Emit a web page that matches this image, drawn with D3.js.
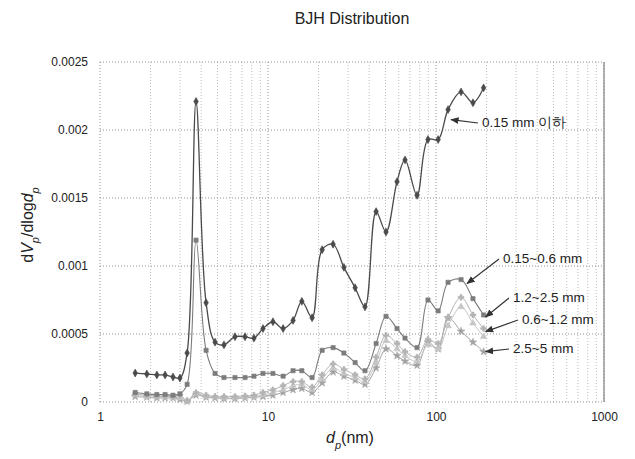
<!DOCTYPE html>
<html>
<head>
<meta charset="utf-8">
<script src="https://cdn.jsdelivr.net/npm/d3@7"></script>
<style>
    body { margin: 0; background: #fff; }
    svg text { font-family: "Liberation Sans", Arial, sans-serif; fill: #222; }
</style>
</head>
<body>
<div id="canvas"></div>
<script>
"use strict"

// DATA (pore diameter in nm, dV/dlogd values)

let diameters = [1.62, 1.90, 2.18, 2.44, 2.72, 2.99, 3.30, 3.73, 4.28, 4.84, 5.47, 6.36,
    7.30, 8.25, 9.34, 10.7, 12.3, 14.1, 15.9, 18.3, 21.0, 24.4, 28.3, 33.0, 37.8, 44.0,
    50.4, 58.6, 65.4, 77.1, 89.6, 103, 118, 141, 166, 192];

let under015 = [0.000213, 0.000206, 0.000199, 0.000199, 0.000184, 0.000176, 0.00036, 0.00221,
    0.00073, 0.00044, 0.00042, 0.00048, 0.00048, 0.00047, 0.00054, 0.00059, 0.00054, 0.00060,
    0.00074, 0.00062, 0.00112, 0.00116, 0.00099, 0.00084, 0.00070, 0.00140, 0.00125, 0.00162,
    0.00178, 0.00152, 0.00193, 0.00193, 0.00215, 0.00228, 0.00220, 0.00231];

let s015to06 = [0.00007, 0.00006, 0.000055, 0.000055, 0.00005, 0.00006, 0.00013, 0.00119,
    0.00038, 0.00021, 0.00018, 0.00018, 0.00018, 0.00019, 0.00021, 0.00021, 0.00019, 0.00023,
    0.00023, 0.00018, 0.00038, 0.00040, 0.00036, 0.00029, 0.00023, 0.00043, 0.00063, 0.00054,
    0.00047, 0.00040, 0.00075, 0.00067, 0.00088, 0.00090, 0.00076, 0.00064];

let s12to25 = [0.00006, 0.00005, 0.000045, 0.000045, 0.00004, 0.00005, 0.00001, 0.00007,
    0.00005, 0.00004, 0.00004, 0.00004, 0.000045, 0.00005, 0.00007, 0.00009, 0.00012, 0.00015,
    0.00015, 0.00011, 0.00020, 0.00028, 0.00024, 0.00020, 0.00017, 0.00033, 0.00049, 0.00043,
    0.00037, 0.00033, 0.00046, 0.00043, 0.00062, 0.00077, 0.00064, 0.00054];

let s06to12 = [0.00005, 0.00004, 0.000035, 0.000035, 0.00003, 0.00003, 0.000005, 0.00006,
    0.00004, 0.000035, 0.00003, 0.00003, 0.000035, 0.00004, 0.00005, 0.00007, 0.00009, 0.00012,
    0.00013, 0.00009, 0.00017, 0.00025, 0.00021, 0.00018, 0.00015, 0.00029, 0.00045, 0.00039,
    0.00034, 0.00030, 0.00042, 0.00039, 0.00056, 0.00070, 0.00058, 0.00048];

let s25to5 = [0.00004, 0.000035, 0.00003, 0.00003, 0.00003, 0.00002, 0.000005, 0.00005,
    0.000035, 0.00003, 0.000025, 0.000025, 0.00003, 0.000035, 0.00004, 0.00005, 0.00007, 0.00009,
    0.00010, 0.00007, 0.00014, 0.00022, 0.00019, 0.00016, 0.00013, 0.00025, 0.00039, 0.00034,
    0.00030, 0.00027, 0.00044, 0.00039, 0.00062, 0.00052, 0.00044, 0.00037];

let xTickValues = [1, 10, 100, 1000];
let yTickValues = [0, 0.0005, 0.001, 0.0015, 0.002, 0.0025];


// CONFIGURATION VARIABLES

let svgWidth = 635;
let svgHeight = 459;
let plotLeft = 100;
let plotRight = 604;
let plotTop = 62;
let plotBottom = 402;


// CREATE SVG

let svg = d3.select("#canvas")
    .append("svg")
    .attr("width", svgWidth)
    .attr("height", svgHeight);

svg.append("defs")
    .append("marker")
    .attr("id", "arrow")
    .attr("viewBox", "0 0 10 10")
    .attr("refX", 9)
    .attr("refY", 5)
    .attr("markerWidth", 7)
    .attr("markerHeight", 7)
    .attr("orient", "auto")
    .append("path")
    .attr("d", "M0,1 L10,5 L0,9 z")
    .attr("fill", "#333");


// SCALES

let xScale = d3.scaleLog()
    .domain([1, 1000])
    .range([plotLeft, plotRight]);

let yScale = d3.scaleLinear()
    .domain([0, 0.0025])
    .range([plotBottom, plotTop]);


// GRID LINES

svg.selectAll("line.vgrid")
    .data(xScale.ticks())
    .join("line")
    .attr("class", "vgrid")
    .attr("x1", function(d) { return xScale(d); })
    .attr("x2", function(d) { return xScale(d); })
    .attr("y1", plotTop)
    .attr("y2", plotBottom)
    .attr("stroke", function(d) { return xTickValues.includes(d) ? "#777" : "#aaa"; })
    .attr("stroke-width", 0.8)
    .attr("stroke-dasharray", "1,2");

svg.selectAll("line.hgrid")
    .data(yTickValues)
    .join("line")
    .attr("class", "hgrid")
    .attr("x1", plotLeft)
    .attr("x2", plotRight)
    .attr("y1", function(d) { return yScale(d); })
    .attr("y2", function(d) { return yScale(d); })
    .attr("stroke", "#777")
    .attr("stroke-width", 0.8)
    .attr("stroke-dasharray", "1,2");

svg.append("line")
    .attr("x1", plotRight)
    .attr("x2", plotRight)
    .attr("y1", plotTop)
    .attr("y2", plotBottom)
    .attr("stroke", "#999")
    .attr("stroke-width", 1.5);


// AXES

let xAxis = svg.append("g")
    .attr("transform", "translate(0," + plotBottom + ")")
    .call(d3.axisBottom(xScale).tickValues(xTickValues).tickSize(0).tickPadding(10)
        .tickFormat(d3.format("d")));

let yAxis = svg.append("g")
    .attr("transform", "translate(" + plotLeft + ",0)")
    .call(d3.axisLeft(yScale).tickValues(yTickValues).tickSize(0).tickPadding(12)
        .tickFormat(function(d) { return String(d); }));

xAxis.select(".domain").remove();
yAxis.select(".domain").remove();
svg.selectAll(".tick text").style("font-size", "12px").attr("fill", "#222");


// SERIES

let seriesList = [
    { values: s25to5, color: "#a2a2a2", marker: "star", width: 1 },
    { values: s06to12, color: "#c6c6c6", marker: "triangle", width: 1 },
    { values: s12to25, color: "#b4b4b4", marker: "cross", width: 1 },
    { values: s015to06, color: "#7c7c7c", marker: "square", width: 1.1 },
    { values: under015, color: "#4a4a4a", marker: "diamond", width: 1.3 }
];

let symbolTypes = {
    star: d3.symbolStar,
    triangle: d3.symbolTriangle,
    cross: d3.symbolCross,
    square: d3.symbolSquare,
    diamond: d3.symbolDiamond
};

let line = d3.line()
    .x(function(d) { return xScale(d.x); })
    .y(function(d) { return yScale(d.y); })
    .curve(d3.curveCatmullRom.alpha(0.5));

seriesList.forEach(function(s) {
    let points = diameters.map(function(x, i) { return { x: x, y: s.values[i] }; });

    svg.append("path")
        .datum(points)
        .attr("fill", "none")
        .attr("stroke", s.color)
        .attr("stroke-width", s.width)
        .attr("d", line);

    svg.selectAll(null)
        .data(points)
        .join("path")
        .attr("transform", function(d) { return "translate(" + xScale(d.x) + "," + yScale(d.y) + ")"; })
        .attr("d", d3.symbol().type(symbolTypes[s.marker]).size(18))
        .attr("fill", s.color)
        .attr("stroke", s.color)
        .attr("stroke-width", 0.6);
});


// ANNOTATIONS (label position, arrow to a data point)

let notes = [
    { text: "0.15 mm 이하", tx: 482, ty: 127, values: under015, i: 32, dx: 3, dy: 10 },
    { text: "0.15~0.6 mm", tx: 503, ty: 263, values: s015to06, i: 33, dx: 6, dy: 4 },
    { text: "1.2~2.5 mm", tx: 513, ty: 302, values: s015to06, i: 35, dx: 2, dy: 2 },
    { text: "0.6~1.2 mm", tx: 522, ty: 324, values: s12to25, i: 35, dx: 2, dy: 3 },
    { text: "2.5~5 mm", tx: 513, ty: 353, values: s25to5, i: 35, dx: 2, dy: 0 }
];

notes.forEach(function(n) {
    svg.append("line")
        .attr("x1", n.tx - 4)
        .attr("y1", n.ty - 4)
        .attr("x2", xScale(diameters[n.i]) + n.dx)
        .attr("y2", yScale(n.values[n.i]) + n.dy)
        .attr("stroke", "#333")
        .attr("stroke-width", 1.2)
        .attr("marker-end", "url(#arrow)");

    svg.append("text")
        .attr("x", n.tx)
        .attr("y", n.ty)
        .style("font-size", "13.5px")
        .text(n.text);
});


// TITLE AND AXIS LABELS

svg.append("text")
    .attr("x", 352)
    .attr("y", 24)
    .attr("text-anchor", "middle")
    .style("font-size", "16px")
    .text("BJH Distribution");

let yLabel = svg.append("text")
    .attr("transform", "rotate(-90)")
    .attr("x", -225)
    .attr("y", 33)
    .attr("text-anchor", "middle")
    .style("font-size", "16px");

yLabel.append("tspan").text("d");
yLabel.append("tspan").style("font-style", "italic").text("V");
yLabel.append("tspan").attr("baseline-shift", "sub").style("font-size", "11px").style("font-style", "italic").text("p");
yLabel.append("tspan").text("/dlog");
yLabel.append("tspan").style("font-style", "italic").text("d");
yLabel.append("tspan").attr("baseline-shift", "sub").style("font-size", "11px").style("font-style", "italic").text("p");

let xLabel = svg.append("text")
    .attr("x", 350)
    .attr("y", 443)
    .attr("text-anchor", "middle")
    .style("font-size", "16px");

xLabel.append("tspan").style("font-style", "italic").text("d");
xLabel.append("tspan").attr("baseline-shift", "sub").style("font-size", "11px").style("font-style", "italic").text("p");
xLabel.append("tspan").text("(nm)");
</script>
</body>
</html>
